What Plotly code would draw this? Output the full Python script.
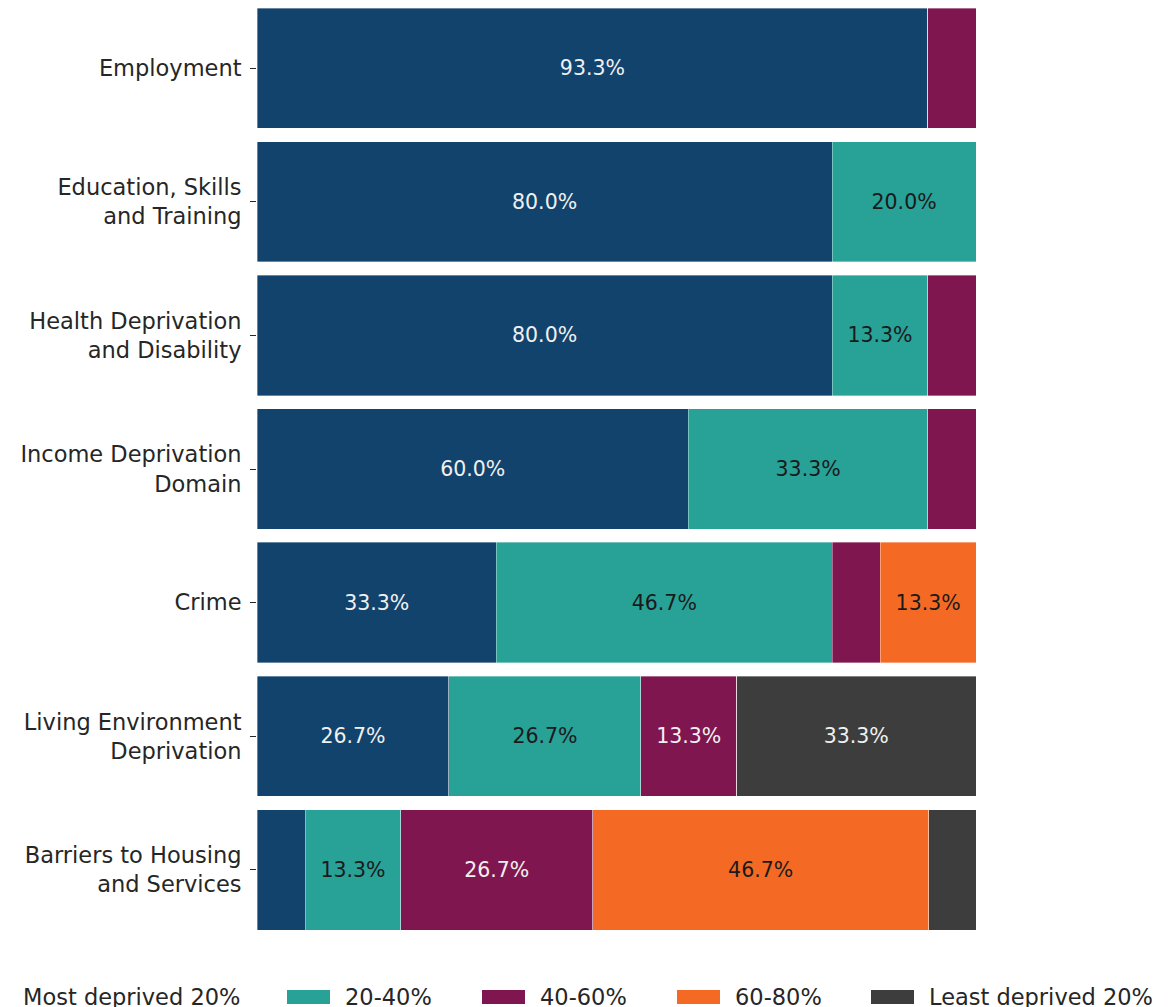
import plotly.graph_objects as go

categories = ["Employment", "Education, Skills<br>and Training", "Health Deprivation<br>and Disability",
              "Income Deprivation<br>Domain", "Crime", "Living Environment<br>Deprivation",
              "Barriers to Housing<br>and Services"]
series_names = ["Most deprived 20%", "20-40%", "40-60%", "60-80%", "Least deprived 20%"]
most_deprived = [93.3, 80.0, 80.0, 60.0, 33.3, 26.7, 6.7]
q20_40 = [0.0, 20.0, 13.3, 33.3, 46.7, 26.7, 13.3]
q40_60 = [6.7, 0.0, 6.7, 6.7, 6.7, 13.3, 26.7]
q60_80 = [0.0, 0.0, 0.0, 0.0, 13.3, 0.0, 46.7]
least_deprived = [0.0, 0.0, 0.0, 0.0, 0.0, 33.3, 6.7]
colors = ["#12436D", "#28A197", "#801650", "#F46A25", "#3D3D3D"]
text_colors = ["#f0f0f0", "#1a1a1a", "#f0f0f0", "#1a1a1a", "#f0f0f0"]

all_series = [most_deprived, q20_40, q40_60, q60_80, least_deprived]
FONT = "DejaVu Sans"

fig = go.Figure()
for name, vals, col, tcol in zip(series_names, all_series, colors, text_colors):
    fig.add_trace(go.Bar(
        y=categories, x=vals, name=name, orientation="h",
        marker=dict(color=col, line=dict(color="rgba(255,255,255,0.6)", width=0.6)),
        text=[f"{v:.1f}%" if v >= 10 else "" for v in vals],
        textposition="inside", insidetextanchor="middle",
        textfont=dict(family=FONT, size=20.5, color=tcol),
        constraintext="none",
        width=0.9, showlegend=False,
    ))

OFF = 8  # page offset of the figure
W, H = 1175, 1007
L = 257 - OFF
T = 0
R = (OFF + W) - 976
B = (OFF + H) - 930
pw, ph = W - L - R, H - T - B

def px_x(p):
    return (p - OFF - L) / pw

def px_y(p):
    return ((OFF + H - B) - p) / ph

shapes = []
annotations = []
sq_left = [-35, 287, 482, 677, 871]
for i, (name, col) in enumerate(zip(series_names, colors)):
    x0 = sq_left[i]
    shapes.append(dict(type="rect", xref="paper", yref="paper",
                       x0=px_x(x0), x1=px_x(x0 + 43), y0=px_y(1004), y1=px_y(990),
                       fillcolor=col, line=dict(width=0)))
    annotations.append(dict(xref="paper", yref="paper", x=px_x(x0 + 43 + 13), y=px_y(997),
                            text=name, showarrow=False, xanchor="left", yanchor="middle",
                            font=dict(family=FONT, size=22.5, color="#262626")))

fig.update_layout(
    barmode="stack", width=W, height=H,
    margin=dict(l=L, r=R, t=T, b=B, pad=0),
    plot_bgcolor="white", paper_bgcolor="white",
    bargap=0.1,
    xaxis=dict(range=[0, 100], visible=False, showgrid=False, zeroline=False),
    yaxis=dict(showgrid=False, zeroline=False, showline=False,
               ticks="outside", ticklen=6, tickwidth=1.2, tickcolor="#262626",
               tickfont=dict(family=FONT, size=22.5, color="#262626"), ticklabelstandoff=4),
    shapes=shapes, annotations=annotations,
    uniformtext=dict(mode=False),
)
fig.update_yaxes(range=[6.45, -0.45], autorange=False)
fig.write_html("out.html")
